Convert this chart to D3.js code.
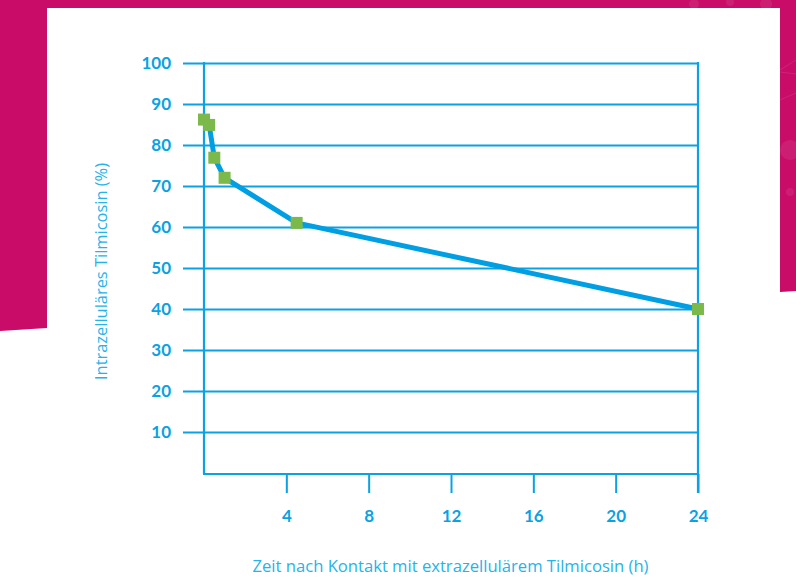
<!DOCTYPE html>
<html>
<head>
<meta charset="utf-8">
<script src="https://cdn.jsdelivr.net/npm/d3@7"></script>
<style>
  html, body { margin: 0; padding: 0; background: #ffffff; }
  svg { display: block; }
</style>
</head>
<body>
<svg id="chart" width="796" height="581"></svg>
<script>
// Intracellular tilmicosin retained over time after extracellular exposure
const hours = [0, 0.25, 0.5, 1, 4.5, 24];
const intracellularPct = [86.2, 84.9, 76.9, 72, 61, 40];
const xTickValues = [4, 8, 12, 16, 20, 24];
const yTickValues = [10, 20, 30, 40, 50, 60, 70, 80, 90, 100];
const xTitle = "Zeit nach Kontakt mit extrazellulärem Tilmicosin (h)";
const yTitle = "Intrazelluläres Tilmicosin (%)";

const W = 796, H = 581;
const blue = "#0aa2e2";
const lineBlue = "#009fe3";
const titleBlue = "#26b3ea";
const green = "#7bb94a";
const magenta = "#c80c68";

const svg = d3.select("#chart");

// magenta page frame behind the white sheet
svg.append("path")
  .attr("d", "M0,0 L796,0 L796,291 L780,292 L780,8 L47,8 L47,328 L0,331 Z")
  .attr("fill", magenta);

// faint network decoration on the frame
const deco = svg.append("g").attr("fill", "#ffffff").attr("fill-opacity", 0.08)
  .attr("stroke", "#ffffff").attr("stroke-opacity", 0.1);
[[790, 150, 10], [790, 192, 4], [694, 4, 5], [766, 4, 6], [730, 2, 4]].forEach(c => {
  deco.append("circle").attr("cx", c[0]).attr("cy", c[1]).attr("r", c[2]).attr("stroke", "none");
});
deco.append("line").attr("x1", 780).attr("y1", 70).attr("x2", 796).attr("y2", 60).attr("fill", "none");
deco.append("line").attr("x1", 780).attr("y1", 72).attr("x2", 796).attr("y2", 74).attr("fill", "none");
deco.append("line").attr("x1", 780).attr("y1", 100).attr("x2", 796).attr("y2", 93).attr("fill", "none");

const x = d3.scaleLinear().domain([0, 24]).range([204, 698]);
const y = d3.scaleLinear().domain([0, 100]).range([473, 63]);

const tickFont = "Lato, 'Open Sans', sans-serif";

// horizontal grid with value labels on the left
const yAxis = d3.axisLeft(y)
  .tickValues(yTickValues)
  .tickSize(x(24) - 183)
  .tickPadding(12)
  .tickFormat(d3.format("d"));
const gy = svg.append("g")
  .attr("transform", `translate(${x(24)},0)`)
  .call(yAxis);
gy.select(".domain").remove();
gy.selectAll(".tick line").attr("stroke", blue).attr("stroke-width", 2.2);
gy.selectAll(".tick text")
  .attr("fill", blue)
  .style("font-family", tickFont)
  .style("font-weight", "700")
  .style("font-size", "17px");

// bottom axis with downward ticks
const xAxis = d3.axisBottom(x)
  .tickValues(xTickValues)
  .tickSize(19)
  .tickFormat(d3.format("d"));
const gx = svg.append("g")
  .attr("transform", `translate(0,${y(0) + 1})`)
  .call(xAxis);
gx.select(".domain").remove();
gx.selectAll(".tick line").attr("stroke", blue).attr("stroke-width", 2);
gx.selectAll(".tick text")
  .attr("fill", blue)
  .attr("dy", null)
  .attr("y", 48)
  .style("font-family", tickFont)
  .style("font-weight", "700")
  .style("font-size", "17px");

// plot frame: left axis, bottom axis, right edge
const frame = svg.append("g").attr("stroke", blue).attr("stroke-width", 2.2).attr("fill", "none");
frame.append("line").attr("x1", x(0)).attr("x2", x(0)).attr("y1", y(100) - 1).attr("y2", y(0) + 1);
frame.append("line").attr("x1", x(0) - 1).attr("x2", x(24)).attr("y1", y(0) + 1).attr("y2", y(0) + 1);
frame.append("line").attr("x1", x(24)).attr("x2", x(24)).attr("y1", y(100) - 1).attr("y2", y(0) + 20);

// data line and square markers
const pts = hours.map((h, i) => [h, intracellularPct[i]]);
svg.append("path")
  .datum(pts)
  .attr("fill", "none")
  .attr("stroke", lineBlue)
  .attr("stroke-width", 5)
  .attr("stroke-linejoin", "round")
  .attr("d", d3.line().x(d => x(d[0])).y(d => y(d[1])));

const ms = 12;
svg.append("g").selectAll("rect")
  .data(pts)
  .join("rect")
  .attr("x", d => x(d[0]) - ms / 2)
  .attr("y", d => y(d[1]) - ms / 2)
  .attr("width", ms)
  .attr("height", ms)
  .attr("fill", green);

// axis titles
const titleFont = "'Open Sans', 'Noto Sans', sans-serif";
const xt = svg.append("text")
  .attr("x", 450.5)
  .attr("y", 572)
  .attr("text-anchor", "middle")
  .attr("fill", titleBlue)
  .style("font-family", titleFont)
  .style("font-size", "17px")
  .text(xTitle);
const yt = svg.append("text")
  .attr("transform", "translate(107,271.5) rotate(-90)")
  .attr("text-anchor", "middle")
  .attr("fill", titleBlue)
  .style("font-family", titleFont)
  .style("font-size", "17px")
  .text(yTitle);

// condense the titles to their set-out widths
function fitWidth(sel, target) {
  const w = sel.node().getComputedTextLength();
  if (w > 0) sel.attr("textLength", target).attr("lengthAdjust", "spacingAndGlyphs");
}
fitWidth(xt, 396);
fitWidth(yt, 217);
</script>
</body>
</html>
